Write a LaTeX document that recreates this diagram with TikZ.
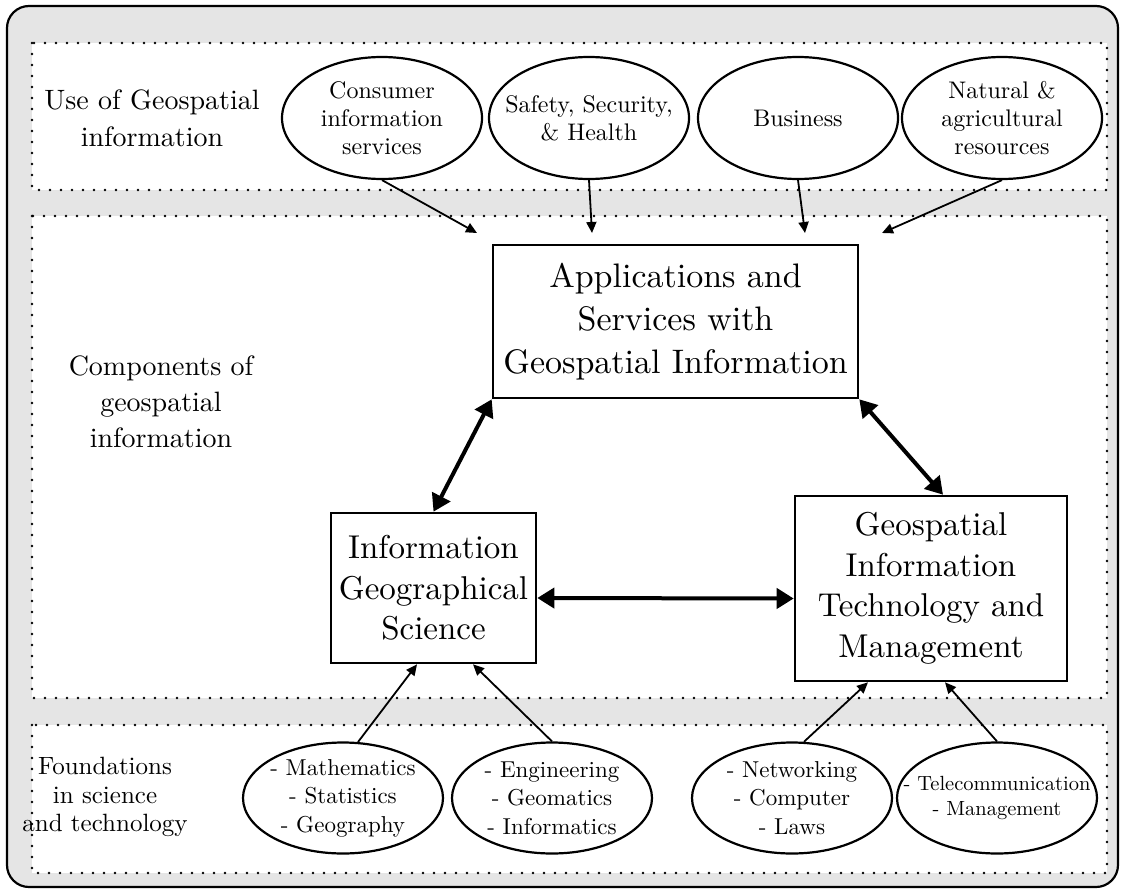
\documentclass[tikz,border=0pt]{standalone}
\usepackage{fontspec}
\setmainfont{lmroman10-regular}[Extension=.otf]
\usetikzlibrary{shapes.geometric,arrows.meta,calc}
\begin{document}
\begin{tikzpicture}[x=1pt,y=-1pt,
  panel/.style={fill=white, draw=black, line width=2.6pt, line cap=round, dash pattern=on 0pt off 11pt},
  box/.style={draw, line width=2.6pt, fill=white, inner sep=0pt, align=center},
  bigtext/.style={font=\fontsize{34}{43}\selectfont},
  midtext/.style={font=\fontsize{33}{40.5}\selectfont},
  oval/.style={ellipse, draw, line width=2.2pt, fill=white, inner sep=0pt, minimum width=200pt},
  otext/.style={align=center, inner sep=0pt, font=\fontsize{24}{28}\selectfont},
  lbl/.style={align=center, inner sep=0pt, font=\fontsize{28}{37}\selectfont},
  feed/.style={line width=1.8pt, -{Triangle[length=11pt,width=10pt]}},
  dbl/.style={line width=4pt, {Triangle[length=17pt,width=20pt]}-{Triangle[length=17pt,width=20pt]}}]
\useasboundingbox (0,0) rectangle (1121,891);

% frame and the three dotted bands
\draw[line width=2.2pt, fill=black!10, rounded corners=22pt] (7,6) rectangle (1118,887);
\path[panel] (32,43) rectangle (1107,190);
\path[panel] (32,216) rectangle (1107,698);
\path[panel] (32,725) rectangle (1107,873);

% band titles
\node[lbl] (use) at (152,118) {Use of Geospatial\\information};
\node[lbl, font=\fontsize{28}{36}\selectfont] (comp) at (161,402) {Components of\\geospatial\\information};
\node[lbl, font=\fontsize{25}{28.5}\selectfont] (found) at (105,797) {Foundations\\in science\\and technology};

% uses
\node[oval, minimum height=122pt] (c1) at (382,118) {};
\node[otext] at (c1) {Consumer\\information\\services};
\node[oval, minimum height=122pt] (c2) at (589,118) {};
\node[otext] at (c2) {Safety, Security,\\\& Health};
\node[oval, minimum height=122pt] (c3) at (798,118) {};
\node[otext] at (c3) {Business};
\node[oval, minimum height=122pt] (c4) at (1002,118) {};
\node[otext] at (c4) {Natural \&\\agricultural\\resources};

\coordinate (t1) at (477,233);
\coordinate (t2) at (592,233);
\coordinate (t3) at (805,233);
\coordinate (t4) at (882,233);
\draw[feed] (c1.south) -- (t1);
\draw[feed] (c2.south) -- (t2);
\draw[feed] (c3.south) -- (t3);
\draw[feed] (c4.south) -- (t4);

% components
\node[box, bigtext, minimum width=365pt, minimum height=153pt] (tb) at (675.5,321.5)
  {Applications and\\Services with\\Geospatial Information};
\node[box, midtext, minimum width=205pt, minimum height=150pt] (lb) at (433.5,588)
  {Information\\Geographical\\Science};
\node[box, midtext, minimum width=272pt, minimum height=185pt] (rb) at (931,588.5)
  {Geospatial\\Information\\Technology and\\Management};

\draw[dbl] (tb.south west) -- (lb.north);
\draw[dbl] (tb.south east) -- ([xshift=12pt]rb.north);
\draw[dbl] ([yshift=-10pt]lb.east) -- ([yshift=-10pt]rb.west);

% foundations
\node[oval, minimum height=111pt] (m1) at (343,798) {};
\node[otext, font=\fontsize{23}{28.5}\selectfont] at (m1) {- Mathematics\\- Statistics\\- Geography};
\node[oval, minimum height=111pt] (m2) at (552,798) {};
\node[otext, font=\fontsize{23}{28.5}\selectfont] at (m2) {- Engineering\\- Geomatics\\- Informatics};
\node[oval, minimum height=111pt] (m3) at (792,798) {};
\node[otext, font=\fontsize{23}{28.5}\selectfont] at (m3) {- Networking\\- Computer\\- Laws};
\node[oval, minimum height=111pt] (m4) at (997,798) {};
\node[otext, font=\fontsize{20.5}{25}\selectfont] at (m4) {- Telecommunication\\- Management};

\draw[feed] (m1.75) -- ([xshift=-16.5pt]lb.south);
\draw[feed] (m2.north) -- ([xshift=39.5pt]lb.south);
\draw[feed] (m3.78) -- ([xshift=-63pt]rb.south);
\draw[feed] (m4.north) -- ([xshift=14pt]rb.south);
\end{tikzpicture}
\end{document}
